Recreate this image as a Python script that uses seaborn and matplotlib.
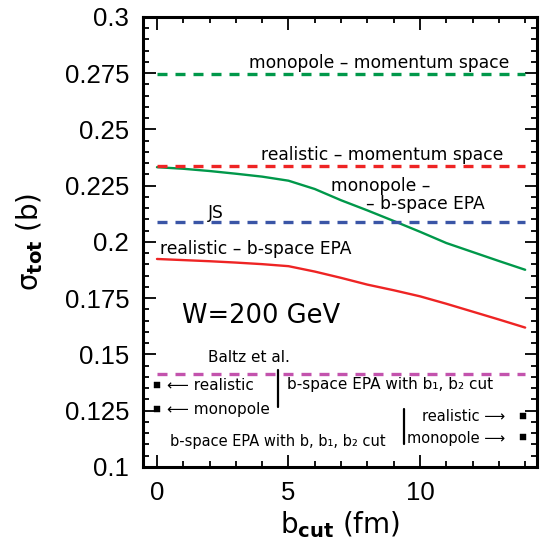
import numpy as np
import pandas as pd
import seaborn as sns
import matplotlib.pyplot as plt

# b-space EPA curves
b_cut = [0, 1, 2, 3, 4, 5, 6, 7, 8, 9, 10, 11, 12, 13, 14]
mono_bspace = [0.2332, 0.2325, 0.2315, 0.2303, 0.2290, 0.2272, 0.2235, 0.2185, 0.2140,
               0.2093, 0.2045, 0.1995, 0.1955, 0.1915, 0.1876]
real_bspace = [0.1924, 0.1919, 0.1914, 0.1908, 0.1901, 0.1892, 0.1868, 0.1840, 0.1810,
               0.1785, 0.1758, 0.1725, 0.1690, 0.1655, 0.1619]

# constant reference values
mono_momentum = 0.2748
real_momentum = 0.2336
js_value = 0.2087
baltz_value = 0.1414

# b, b1, b2 cut points (left) and b1, b2 cut points (right)
left_pts_x = [0, 0]
left_pts_y = [0.1365, 0.1256]
right_pts_x = [13.9, 13.9]
right_pts_y = [0.1226, 0.1133]

green = '#00984a'
red = '#ee2424'
blue = '#3a55a6'
pink = '#c353ad'

sns.set_style('ticks', {'axes.edgecolor': 'black', 'text.color': 'black',
                        'axes.labelcolor': 'black', 'xtick.color': 'black',
                        'ytick.color': 'black'})
plt.rcParams['font.family'] = ['DejaVu Sans']

fig = plt.figure(figsize=(5.46, 5.46), dpi=100)
ax = fig.add_axes([0.262, 0.145, 0.7215, 0.824])

df = pd.DataFrame({'b': b_cut, 'mono': mono_bspace, 'real': real_bspace})
sns.lineplot(data=df, x='b', y='mono', color=green, lw=1.7, ax=ax)
sns.lineplot(data=df, x='b', y='real', color=red, lw=1.7, ax=ax)

for val, col in [(mono_momentum, green), (real_momentum, red), (js_value, blue), (baltz_value, pink)]:
    sns.lineplot(x=[b_cut[0], b_cut[-1]], y=[val, val], color=col, lw=2.4,
                 dashes=False, ax=ax).lines[-1].set_dashes((3.0, 2.4))

sns.scatterplot(x=left_pts_x + right_pts_x, y=left_pts_y + right_pts_y, marker='s',
                s=14, color='black', edgecolor='black', ax=ax)

ax.set_xlim(-0.53, 14.45)
ax.set_ylim(0.1, 0.3)
ax.set_xticks([0, 5, 10])
ax.set_xticks(np.arange(0, 15, 1), minor=True)
ax.set_yticks(np.arange(0.1, 0.301, 0.025))
ax.set_yticks(np.arange(0.1, 0.301, 0.005), minor=True)
ax.set_yticklabels(['0.1', '0.125', '0.15', '0.175', '0.2', '0.225', '0.25', '0.275', '0.3'])
ax.tick_params(which='both', direction='in', top=True, right=True, width=1.3, color='black')
ax.tick_params(which='major', length=9, labelsize=18.5, pad=10, labelcolor='black')
ax.tick_params(which='minor', length=4.5)
for lab in ax.get_xticklabels() + ax.get_yticklabels():
    lab.set_family('Liberation Sans')
for sp in ax.spines.values():
    sp.set_linewidth(2.2)
    sp.set_color('black')

ax.set_xlabel(r'b$_{\mathbf{cut}}$ (fm)', fontsize=20, labelpad=3, color='black')
ax.set_ylabel(r'σ$_{\mathbf{tot}}$ (b)', fontsize=20, labelpad=14, color='black')

fs = 12.3
ax.text(3.5, 0.2775, 'monopole – momentum space', fontsize=fs)
ax.text(3.95, 0.2362, 'realistic – momentum space', fontsize=fs)
ax.text(6.6, 0.2250, 'monopole –', fontsize=fs, va='center')
ax.text(7.95, 0.2170, '– b-space EPA', fontsize=fs, va='center')
ax.text(1.93, 0.2130, 'JS', fontsize=fs, va='center')
ax.text(0.1, 0.1970, 'realistic – b-space EPA', fontsize=fs, va='center')
ax.text(0.95, 0.1670, 'W=200 GeV', fontsize=18.5, va='center')
ax.text(1.93, 0.1487, 'Baltz et al.', fontsize=11, va='center')
ax.text(0.38, 0.1363, '⟵ realistic', fontsize=11, va='center')
ax.text(0.38, 0.1256, '⟵ monopole', fontsize=11, va='center')
ax.text(0.5, 0.1113, 'b-space EPA with b, b₁, b₂ cut', fontsize=10.5, va='center')
ax.text(4.93, 0.1366, 'b-space EPA with b₁, b₂ cut', fontsize=11, va='center')
ax.text(13.25, 0.1225, 'realistic ⟶', fontsize=10.5, va='center', ha='right')
ax.text(13.25, 0.1127, 'monopole ⟶', fontsize=10.5, va='center', ha='right')
ax.plot([4.6, 4.6], [0.1265, 0.1431], color='black', lw=1.6)
ax.plot([9.4, 9.4], [0.1100, 0.1259], color='black', lw=1.6)

fig.savefig('out.png', dpi=100)
